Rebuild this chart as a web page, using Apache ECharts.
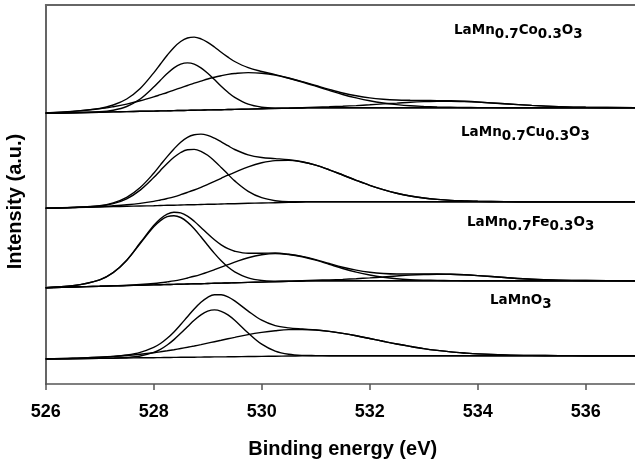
<!DOCTYPE html>
<html>
<head>
<meta charset="utf-8">
<script src="https://cdn.jsdelivr.net/npm/echarts@6/dist/echarts.min.js"></script>
<style>
  html, body { margin: 0; padding: 0; background: #fff; }
  #chart { width: 635px; height: 462px; }
</style>
</head>
<body>
<div id="chart"></div>
<script>
// O 1s spectra of the perovskites, stacked with vertical offsets (a.u.).
// Each sample: Shirley-type background plus the fitted components (heights above background).
const energy = [526, 526.5, 527, 527.25, 527.5, 527.75, 528, 528.125, 528.25, 528.375,
  528.5, 528.625, 528.75, 528.875, 529, 529.125, 529.25, 529.375, 529.5, 529.75,
  530, 530.25, 530.5, 530.75, 531, 531.25, 531.5, 531.75, 532, 532.25,
  532.5, 532.75, 533, 533.25, 533.5, 533.75, 534, 534.5, 535, 535.5,
  536, 537];

const xTicks = [526, 528, 530, 532, 534, 536];

// LaMn0.7Co0.3O3
const coBackground = [270.7, 271.3, 271.8, 272.1, 272.4, 272.7, 272.9, 273.1, 273.2, 273.4,
  273.5, 273.6, 273.8, 273.9, 274.1, 274.2, 274.3, 274.5, 274.6, 274.9,
  275.2, 275.5, 275.7, 276.0, 276.3, 276.3, 276.3, 276.3, 276.3, 276.3,
  276.3, 276.3, 276.3, 276.3, 276.3, 276.3, 276.3, 276.3, 276.3, 276.3,
  276.3, 276.3];
const coLattice = [0, 0, 0.4, 1.7, 5.1, 12.3, 24.0, 30.7, 37.2, 42.7,
  46.3, 47.5, 46.1, 42.3, 36.7, 30.2, 23.4, 17.2, 12.0, 4.9,
  1.6, 0.4, 0.1, 0, 0, 0, 0, 0, 0, 0,
  0, 0, 0, 0, 0, 0, 0, 0, 0, 0,
  0, 0];
const coAdsorbed = [0.4, 1.3, 3.4, 5.2, 7.5, 10.5, 14.2, 16.2, 18.3, 20.5,
  22.7, 24.9, 27.0, 29.0, 30.9, 32.6, 34.0, 35.1, 35.9, 36.5,
  35.6, 33.4, 30.0, 26.0, 21.6, 17.3, 13.2, 9.8, 6.9, 4.7,
  3.1, 1.9, 1.2, 0.7, 0.4, 0.2, 0.1, 0, 0, 0,
  0, 0];
const coWater = [0, 0, 0, 0, 0, 0, 0, 0, 0, 0,
  0, 0, 0, 0, 0, 0, 0, 0, 0, 0,
  0.1, 0.1, 0.2, 0.4, 0.6, 1.0, 1.5, 2.1, 2.9, 3.8,
  4.6, 5.5, 6.1, 6.4, 6.5, 6.2, 5.6, 3.9, 2.3, 1.1,
  0.4, 0];

// LaMn0.7Cu0.3O3
const cuBackground = [175.7, 176.4, 177.0, 177.4, 177.7, 178.0, 178.3, 178.5, 178.7, 178.8,
  179.0, 179.2, 179.3, 179.5, 179.7, 179.8, 180.0, 180.2, 180.3, 180.7,
  181.0, 181.3, 181.6, 182.0, 182.3, 182.3, 182.3, 182.3, 182.3, 182.3,
  182.3, 182.3, 182.3, 182.3, 182.3, 182.3, 182.3, 182.3, 182.3, 182.3,
  182.3, 182.3];
const cuLattice = [0, 0.1, 1.0, 3.0, 7.5, 15.9, 28.1, 35.1, 41.9, 47.9,
  52.5, 55.1, 55.3, 53.2, 49.0, 43.2, 36.5, 29.5, 22.8, 12.0,
  5.3, 2.0, 0.6, 0.2, 0, 0, 0, 0, 0, 0,
  0, 0, 0, 0, 0, 0, 0, 0, 0, 0,
  0, 0];
const cuAdsorbed = [0, 0.1, 0.4, 0.8, 1.5, 2.6, 4.3, 5.5, 6.8, 8.4,
  10.3, 12.4, 14.7, 17.2, 19.9, 22.8, 25.7, 28.6, 31.4, 36.5,
  40.2, 42.1, 42.0, 40.0, 36.5, 31.9, 26.7, 21.4, 16.4, 12.1,
  8.5, 5.7, 3.7, 2.3, 1.3, 0.8, 0.4, 0.1, 0, 0,
  0, 0];

// LaMn0.7Fe0.3O3
const feBackground = [96.3, 97.0, 97.7, 98.1, 98.4, 98.8, 99.1, 99.3, 99.5, 99.6,
  99.8, 100.0, 100.2, 100.3, 100.5, 100.7, 100.9, 101.0, 101.2, 101.6,
  101.9, 102.3, 102.6, 103.0, 103.3, 103.3, 103.3, 103.3, 103.3, 103.3,
  103.3, 103.3, 103.3, 103.3, 103.3, 103.3, 103.3, 103.3, 103.3, 103.3,
  103.3, 103.3];
const feLattice = [0.1, 1.2, 6.5, 13.3, 25.2, 41.7, 58.0, 64.1, 67.8, 68.7,
  66.7, 61.9, 55.1, 46.9, 38.3, 29.9, 22.3, 16.0, 11.0, 4.5,
  1.6, 0.5, 0.1, 0, 0, 0, 0, 0, 0, 0,
  0, 0, 0, 0, 0, 0, 0, 0, 0, 0,
  0, 0];
const feAdsorbed = [0, 0, 0, 0.1, 0.3, 0.7, 1.4, 1.9, 2.6, 3.5,
  4.6, 6.0, 7.5, 9.4, 11.4, 13.6, 15.9, 18.3, 20.6, 24.7,
  27.3, 28.1, 26.9, 24.3, 20.6, 16.4, 12.2, 8.6, 5.7, 3.5,
  2.0, 1.1, 0.6, 0.3, 0.1, 0, 0, 0, 0, 0,
  0, 0];
const feWater = [0, 0, 0, 0, 0, 0, 0, 0, 0, 0,
  0, 0, 0, 0, 0, 0, 0, 0, 0, 0,
  0, 0.1, 0.1, 0.3, 0.5, 0.8, 1.3, 2.0, 2.8, 3.7,
  4.7, 5.6, 6.2, 6.5, 6.4, 5.9, 5.1, 3.2, 1.5, 0.6,
  0.2, 0];

// LaMnO3
const mnBackground = [25.0, 25.3, 25.7, 25.8, 26.0, 26.2, 26.3, 26.4, 26.5, 26.6,
  26.7, 26.7, 26.8, 26.9, 27.0, 27.1, 27.1, 27.2, 27.3, 27.5,
  27.6, 27.8, 28.0, 28.1, 28.3, 28.3, 28.3, 28.3, 28.3, 28.3,
  28.3, 28.3, 28.3, 28.3, 28.3, 28.3, 28.3, 28.3, 28.3, 28.3,
  28.3, 28.3];
const mnLattice = [0, 0, 0, 0.1, 0.5, 1.8, 5.3, 8.3, 12.5, 17.8,
  24.0, 30.6, 37.0, 42.3, 45.8, 47.0, 45.6, 42.0, 36.5, 23.5,
  12.2, 5.1, 1.7, 0.5, 0.1, 0, 0, 0, 0, 0,
  0, 0, 0, 0, 0, 0, 0, 0, 0, 0,
  0, 0];
const mnAdsorbed = [0.2, 0.4, 1.1, 1.7, 2.5, 3.6, 5.0, 5.8, 6.7, 7.7,
  8.8, 10.0, 11.2, 12.5, 13.9, 15.2, 16.6, 18.0, 19.3, 21.9,
  24.0, 25.5, 26.4, 26.4, 25.7, 24.3, 22.3, 19.9, 17.2, 14.4,
  11.7, 9.3, 7.1, 5.3, 3.8, 2.7, 1.8, 0.8, 0.3, 0.1,
  0, 0];

const sampleNames = ['LaMn0.7Co0.3O3', 'LaMn0.7Cu0.3O3', 'LaMn0.7Fe0.3O3', 'LaMnO3'];

const samples = [
  { background: coBackground, components: [coLattice, coAdsorbed, coWater] },
  { background: cuBackground, components: [cuLattice, cuAdsorbed] },
  { background: feBackground, components: [feLattice, feAdsorbed, feWater] },
  { background: mnBackground, components: [mnLattice, mnAdsorbed] }
];

const INK = '#000';
const AXIS = '#555';

function curve(values) {
  return {
    type: 'line',
    xAxisIndex: 0,
    data: energy.map((e, i) => [e, values[i]]),
    symbol: 'none',
    smooth: 0.35,
    silent: true,
    lineStyle: { color: INK, width: 1.4 }
  };
}

const series = [];
samples.forEach(s => {
  series.push(curve(s.background));
  s.components.forEach(c => {
    series.push(curve(s.background.map((b, i) => b + c[i])));
  });
  // envelope = background + sum of components
  series.push(curve(s.background.map((b, i) =>
    b + s.components.reduce((sum, c) => sum + c[i], 0))));
});

// chemical formulae with subscripted digits
function formula(name) {
  return name.replace(/(\d+(?:\.\d+)?)|([^\d]+)/g, (m, num, txt) =>
    num ? '{s|' + num + '}' : '{m|' + txt + '}');
}
const labelFont = { fontFamily: 'DejaVu Sans', fontWeight: 'bold', fontSize: 13.5, color: INK };
const labelPos = [[454, 19], [461, 121], [467, 211], [490, 289]];

const chart = echarts.init(document.getElementById('chart'), null, { renderer: 'canvas' });
chart.setOption({
  animation: false,
  backgroundColor: '#fff',
  title: sampleNames.map((n, k) => ({
    text: formula(n),
    left: labelPos[k][0],
    top: labelPos[k][1],
    padding: 0,
    textStyle: {
      rich: {
        m: Object.assign({}, labelFont),
        s: Object.assign({ padding: [8, 0, 0, 0] }, labelFont)
      }
    }
  })),
  grid: {
    left: 45.7, right: -4.7, top: 5, bottom: 78,
    containLabel: false,
    outerBoundsMode: 'none'
  },
  xAxis: [{
    type: 'value',
    position: 'bottom',
    min: 526, max: 537, interval: 2,
    name: 'Binding energy (eV)',
    nameLocation: 'middle',
    nameGap: 55,
    nameTextStyle: { fontFamily: 'Liberation Sans', fontWeight: 'bold', fontSize: 20, color: INK },
    axisLine: { lineStyle: { color: AXIS, width: 1.5 } },
    axisTick: { length: 6, customValues: xTicks, lineStyle: { color: AXIS, width: 1.5 } },
    axisLabel: {
      margin: 19, customValues: xTicks,
      fontFamily: 'Liberation Sans', fontWeight: 'bold', fontSize: 18, color: INK
    },
    splitLine: { show: false }
  }, {
    // frame line along the top of the plot
    type: 'value',
    position: 'top',
    min: 526, max: 537,
    axisLine: { show: true, lineStyle: { color: '#666', width: 1.8 } },
    axisTick: { show: false },
    axisLabel: { show: false },
    splitLine: { show: false }
  }],
  yAxis: {
    type: 'value',
    min: 0, max: 379,
    name: 'Intensity (a.u.)',
    nameLocation: 'middle',
    nameGap: 20,
    nameTextStyle: {
      fontFamily: 'Liberation Sans', fontWeight: 'bold', fontSize: 20, color: INK,
      padding: [0, 14, 0, 0]
    },
    axisLine: { show: true, lineStyle: { color: AXIS, width: 1.8 } },
    axisTick: { show: false },
    axisLabel: { show: false },
    splitLine: { show: false }
  },
  series: series
});
</script>
</body>
</html>
